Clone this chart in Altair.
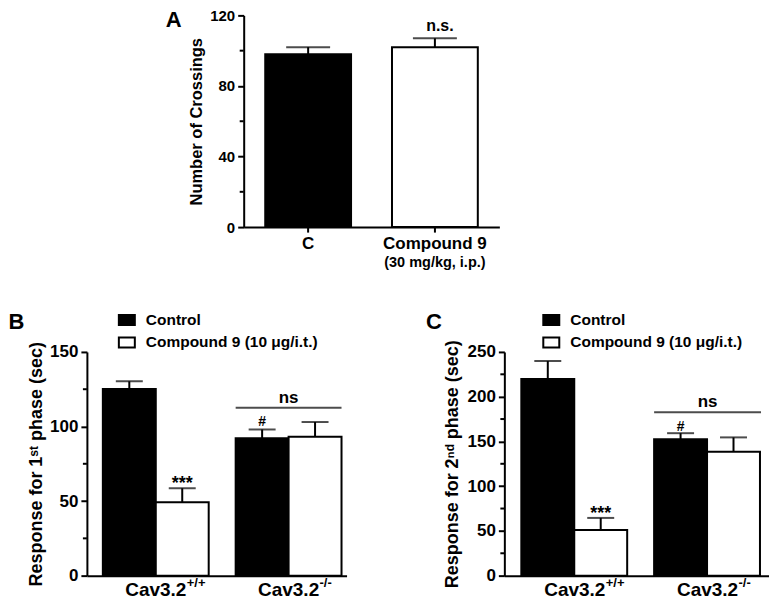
import altair as alt
import pandas as pd

F = "Liberation Sans"

# ---------------- Panel A data ----------------
a_cats = ["C", "Compound 9"]
a_mean = [98, 102]
a_err = [4, 5]
a_note_cat = ["Compound 9"]
a_note = ["n.s."]
a_note_y = [107]
a_sub = "(30 mg/kg, i.p.)"
a_ticks = [0, 40, 80, 120]
a_minor = [20, 60, 100]

# ---------------- Panels B / C data ----------------
groups = ["Cav3.2+/+", "Cav3.2-/-"]
group_main = ["Cav3.2", "Cav3.2"]
group_sup = ["+/+", "-/-"]
treatments = ["Control", "Compound 9 (10 μg/i.t.)"]
bc_note = ["", "***", "#", ""]

b_mean = [125.1, 49.2, 92.1, 93.2]
b_err = [5.2, 9.4, 5.9, 9.8]
b_ticks = [0, 50, 100, 150]
b_minor = [25, 75, 125]
b_ns = 112.6

c_mean = [219.8, 51.0, 152.3, 138.5]
c_err = [20.0, 13.5, 6.9, 16.0]
c_ticks = [0, 50, 100, 150, 200, 250]
c_minor = [25, 75, 125, 175, 225]
c_ns = 182.6


def y_axis(values, title, lab_size, title_size, title_pad):
    return alt.Axis(values=values, title=title, grid=False,
                    titleFont=F, titleFontSize=title_size, titleFontWeight="bold",
                    titleColor="black", titlePadding=title_pad,
                    labelFont=F, labelFontSize=lab_size, labelFontWeight="bold",
                    labelColor="black", labelPadding=3,
                    tickSize=6, tickWidth=2, tickColor="black",
                    domainWidth=2, domainColor="black")


# ---------------- Panel A ----------------
WA, HA = 256, 212
dfA = pd.DataFrame({"cat": a_cats, "mean": a_mean, "err": a_err})
dfA["top"] = dfA["mean"] + dfA["err"]
axA = y_axis(a_ticks, "Number of Crossings", 15, 16.5, 5)
scA = alt.Scale(domain=[0, 120], nice=False)
scXA = alt.Scale(paddingInner=0.323, paddingOuter=0.17)
axXA = alt.Axis(title=None, labelAngle=0, labelFont=F, labelFontSize=17,
                labelFontWeight="bold", labelColor="black", labelPadding=3,
                tickSize=5, tickWidth=2, tickColor="black",
                domainWidth=2, domainColor="black")


def YA(f):
    return alt.Y(f"{f}:Q", scale=scA, axis=axA)


XA = alt.X("cat:N", sort=a_cats, scale=scXA, axis=axXA)

barsA = alt.Chart(dfA).mark_bar(stroke="black", strokeWidth=2).encode(
    x=XA, y=YA("mean"),
    fill=alt.Fill("cat:N", scale=alt.Scale(domain=a_cats, range=["black", "white"]), legend=None))
errA = alt.Chart(dfA).mark_rule(color="black", strokeWidth=2).encode(
    x=XA, y=YA("mean"), y2=alt.Y2("top"))
capA = alt.Chart(dfA).mark_tick(color="black", thickness=2, size=44).encode(
    x=XA, y=YA("top"))
noteA = alt.Chart(pd.DataFrame({"cat": a_note_cat, "note": a_note, "ny": a_note_y})).mark_text(
    font=F, fontSize=16, fontWeight="bold", baseline="alphabetic", align="center",
    dy=-7, dx=5, color="black").encode(
    x=XA, y=YA("ny"), text="note:N")
minorA = alt.Chart(pd.DataFrame({"v": a_minor})).mark_rule(color="black", strokeWidth=2).encode(
    y=YA("v"), x=alt.value(-4), x2=alt.value(0))
subA = alt.Chart(pd.DataFrame({"cat": ["Compound 9"], "sub": [a_sub]})).mark_text(
    font=F, fontSize=14.5, fontWeight="bold", baseline="alphabetic", align="center",
    color="black").encode(
    x=XA, y=alt.value(HA + 40), text="sub:N")
letA = alt.Chart(pd.DataFrame({"t": ["A"]})).mark_text(
    font=F, fontSize=22, fontWeight="bold", baseline="alphabetic", color="black").encode(
    x=alt.value(-70), y=alt.value(12), text="t:N")

panelA = alt.layer(barsA, errA, capA, noteA, minorA, subA, letA).properties(width=WA, height=HA)


# ---------------- Panels B / C ----------------
def panel_bc(mean, err, ymax, ticks, minor, ytitle, ns_y, letter, legx, w, h,
             pi, po, al, title_pad, dy_star, dy_hash, dy_ns):
    df = pd.DataFrame({
        "group": [g for g in groups for _ in treatments],
        "treat": treatments * len(groups),
        "mean": mean, "err": err, "note": bc_note})
    df["top"] = df["mean"] + df["err"]
    ax = y_axis(ticks, ytitle, 17, 18, title_pad)
    sc = alt.Scale(domain=[0, ymax], nice=False)

    def Y(f):
        return alt.Y(f"{f}:Q", scale=sc, axis=ax)

    X = alt.X("group:N", sort=groups,
              scale=alt.Scale(paddingInner=pi, paddingOuter=po, align=al),
              axis=alt.Axis(title=None, labels=False, ticks=False,
                            domainWidth=2, domainColor="black"))
    XO = alt.XOffset("treat:N", sort=treatments,
                     scale=alt.Scale(paddingInner=0, paddingOuter=0))
    step = w / (len(groups) - pi + 2 * po)
    bw = step * (1 - pi)

    bars = alt.Chart(df).mark_bar(stroke="black", strokeWidth=2).encode(
        x=X, xOffset=XO, y=Y("mean"),
        fill=alt.Fill("treat:N", scale=alt.Scale(domain=treatments, range=["black", "white"]),
                      legend=alt.Legend(title=None, orient="none", legendX=legx, legendY=-41,
                                        direction="vertical",
                                        symbolType="M-1,-0.62H1V0.62H-1Z", symbolSize=256,
                                        symbolStrokeColor="black", symbolStrokeWidth=2,
                                        labelFont=F, labelFontSize=15.5, labelFontWeight="bold",
                                        labelColor="black", labelLimit=400, labelOffset=10,
                                        rowPadding=4.5, padding=0)))
    err_r = alt.Chart(df).mark_rule(color="black", strokeWidth=2).encode(
        x=X, xOffset=XO, y=Y("mean"), y2=alt.Y2("top"))
    caps = alt.Chart(df).mark_tick(color="black", thickness=2, size=27).encode(
        x=X, xOffset=XO, y=Y("top"))
    stars = alt.Chart(df).transform_filter(alt.datum.note == "***").mark_text(
        font=F, fontSize=18, fontWeight="bold", baseline="alphabetic", dy=dy_star,
        color="black").encode(x=X, xOffset=XO, y=Y("top"), text="note:N")
    hashes = alt.Chart(df).transform_filter(alt.datum.note == "#").mark_text(
        font=F, fontSize=14, fontWeight="bold", baseline="alphabetic", dy=dy_hash,
        color="black").encode(x=X, xOffset=XO, y=Y("top"), text="note:N")
    dns = pd.DataFrame({"group": [groups[1]], "y": [ns_y], "lab": ["ns"]})
    nsline = alt.Chart(dns).mark_tick(color="black", thickness=2, size=bw).encode(
        x=X, y=Y("y"))
    nstext = alt.Chart(dns).mark_text(font=F, fontSize=17, fontWeight="bold",
                                      baseline="alphabetic", dy=dy_ns, color="black").encode(
        x=X, y=Y("y"), text="lab:N")
    minor_r = alt.Chart(pd.DataFrame({"v": minor})).mark_rule(color="black", strokeWidth=2).encode(
        y=Y("v"), x=alt.value(-4), x2=alt.value(0))
    dl = pd.DataFrame({"group": groups, "main": group_main, "sup": group_sup})
    lab_main = alt.Chart(dl).mark_text(font=F, fontSize=19, fontWeight="bold",
                                       baseline="alphabetic", color="black").encode(
        x=X, y=alt.value(h + 20), text="main:N")
    lab_sup = alt.Chart(dl).mark_text(font=F, fontSize=13, fontWeight="bold", align="left",
                                      baseline="alphabetic", dx=31, color="black").encode(
        x=X, y=alt.value(h + 11), text="sup:N")
    let = alt.Chart(pd.DataFrame({"t": [letter]})).mark_text(
        font=F, fontSize=22, fontWeight="bold", baseline="alphabetic", color="black").encode(
        x=alt.value(-70.5), y=alt.value(-22.7), text="t:N")
    return alt.layer(bars, err_r, caps, stars, hashes, nsline, nstext, minor_r,
                     lab_main, lab_sup, let).properties(width=w, height=h)


HB = 224
panelB = panel_bc(b_mean, b_err, 150, b_ticks, b_minor,
                  "Response for 1ˢᵗ phase (sec)", b_ns, "B", 31, 260, HB,
                  0.203, 0.079, 0.76, 4, 1, -3, -5)
panelC = panel_bc(c_mean, c_err, 250, c_ticks, c_minor,
                  "Response for 2ⁿᵈ phase (sec)", c_ns, "C", 38, 265, HB,
                  0.195, 0.094, 0.68, 6, 1, -2, -5)

spacer = alt.Chart(pd.DataFrame({"s": [0]})).mark_point(opacity=0).encode(
    x=alt.value(0), y=alt.value(0)).properties(width=79, height=10)

row1 = alt.hconcat(spacer, panelA, spacing=0)
row2 = alt.hconcat(panelB, panelC, spacing=79).resolve_scale(fill="independent")

chart = alt.vconcat(row1, row2, spacing=41).resolve_scale(fill="independent").properties(
    padding=0).configure_view(stroke=None)

chart.save("out.html", embed_options={"renderer": "svg", "actions": False})
